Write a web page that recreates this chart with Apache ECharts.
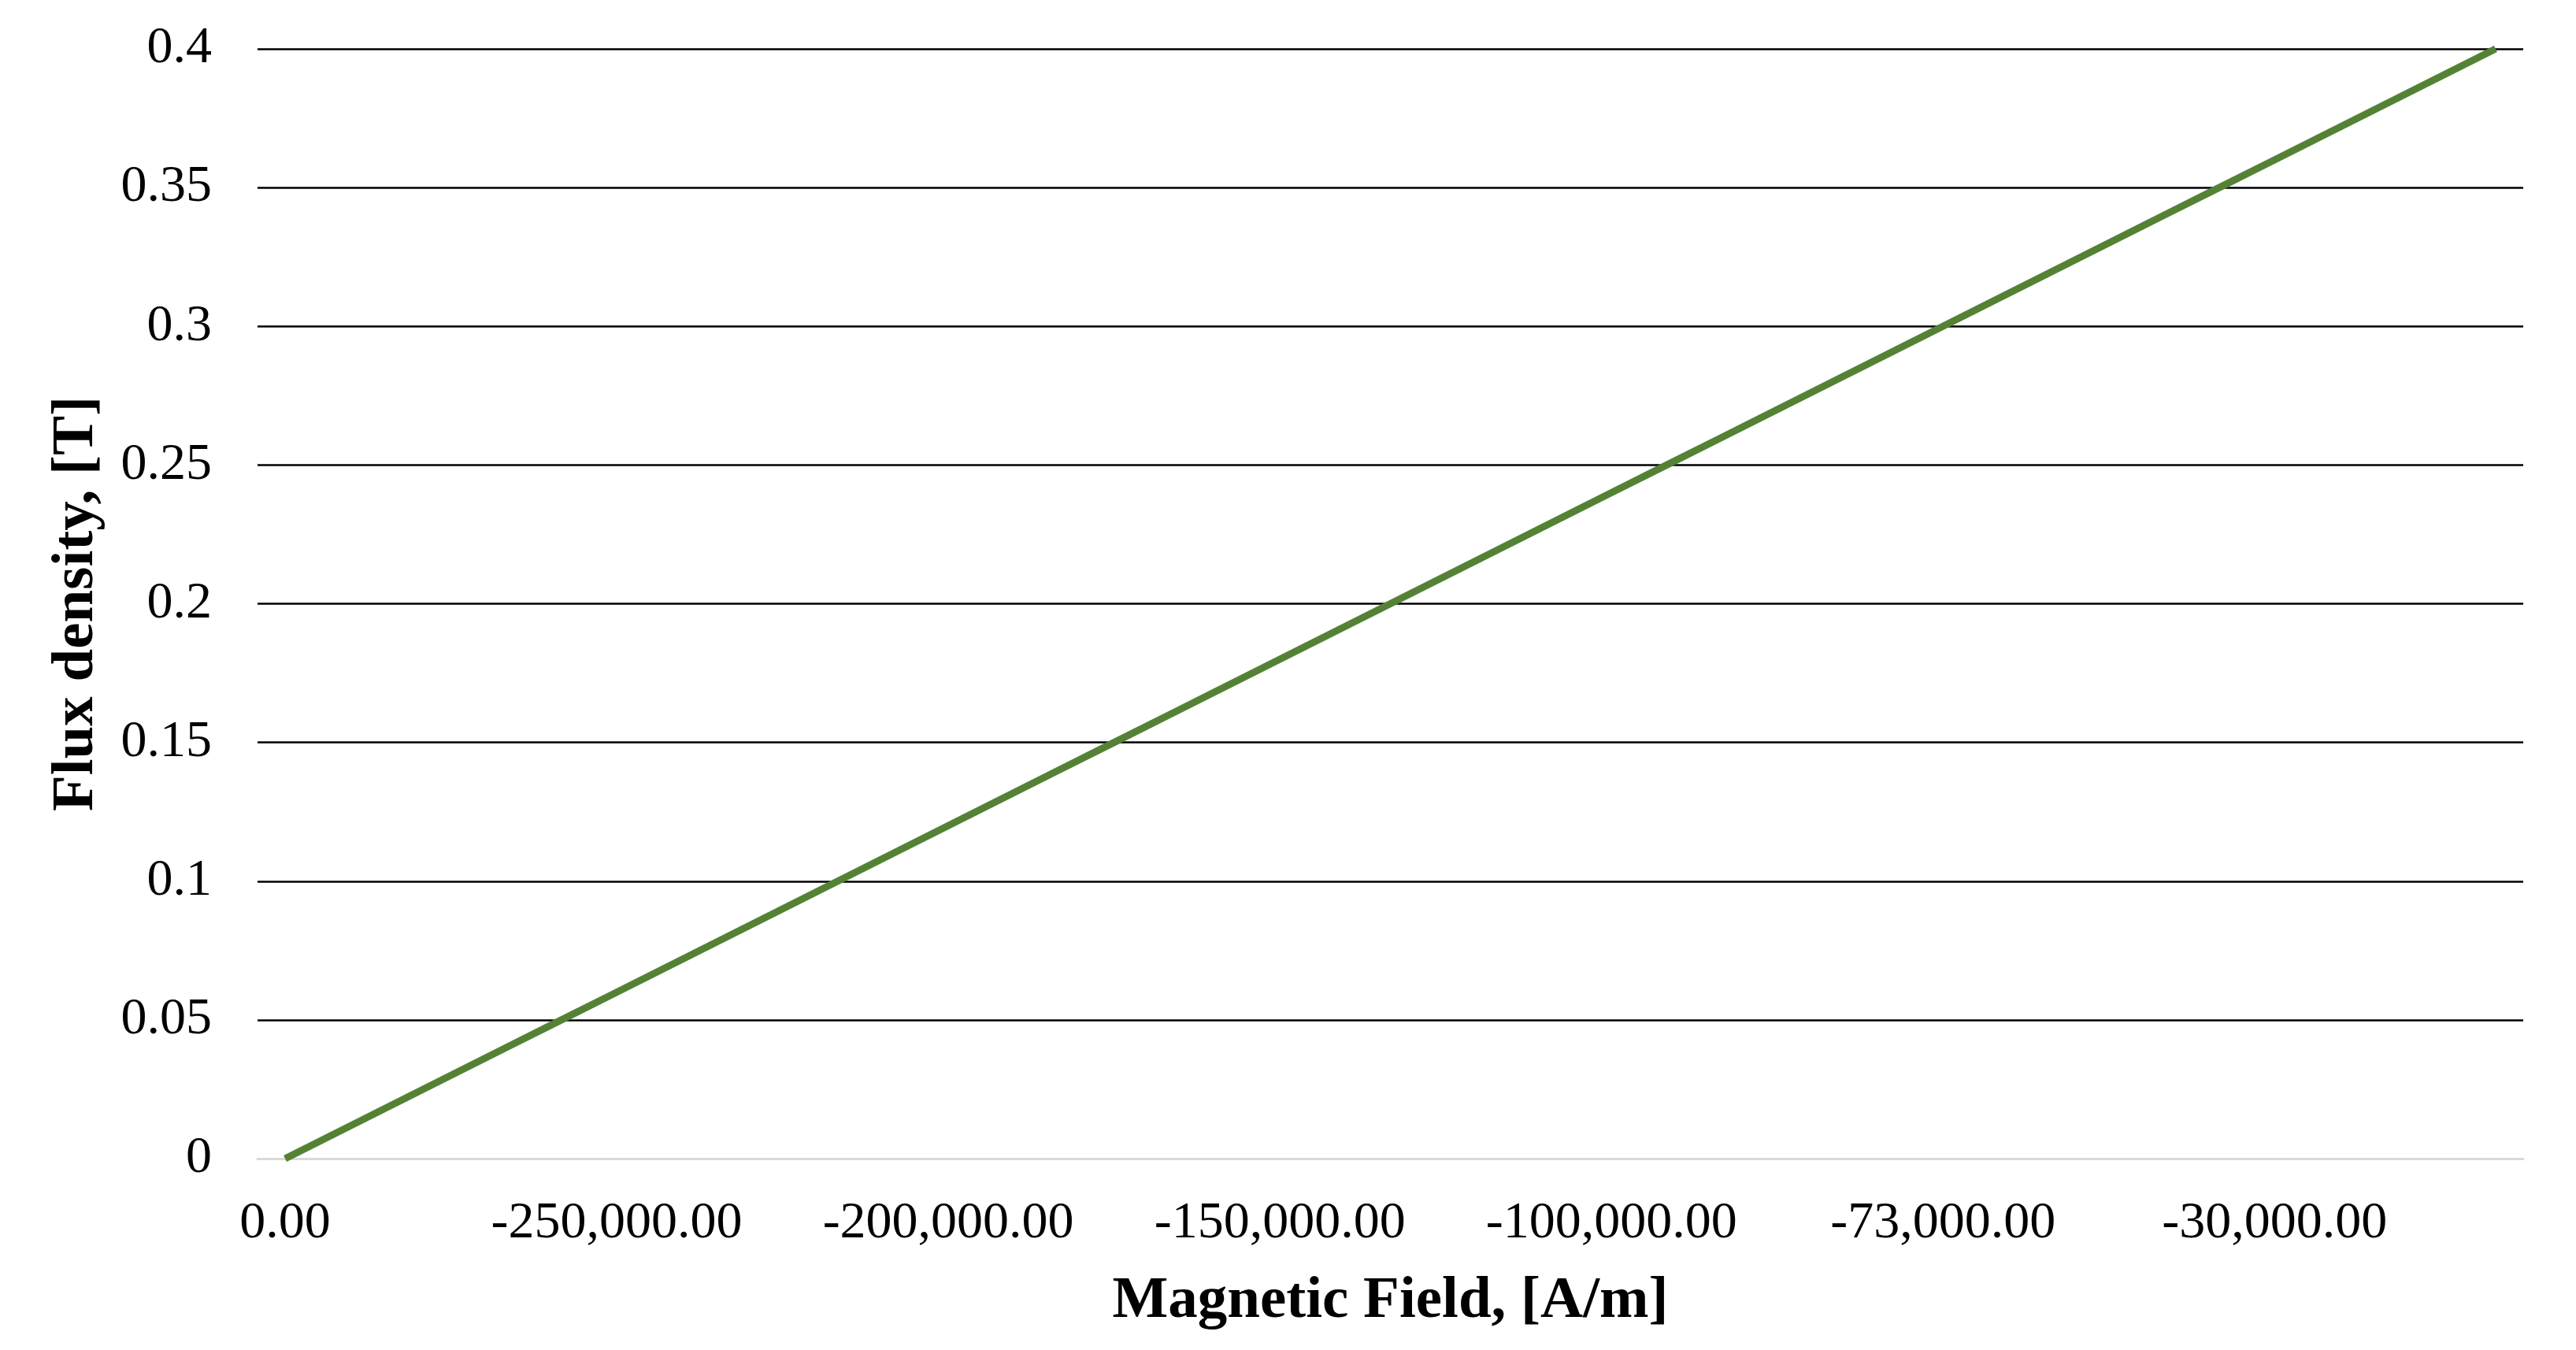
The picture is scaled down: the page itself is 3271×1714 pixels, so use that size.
<!DOCTYPE html>
<html>
<head>
<meta charset="utf-8">
<title>Flux density vs Magnetic Field</title>
<script src="https://cdn.jsdelivr.net/npm/echarts@6/dist/echarts.min.js"></script>
<style>
  html, body { margin: 0; padding: 0; background: #fff; }
  #chart { width: 3271px; height: 1714px; }
</style>
</head>
<body>
<div id="chart"></div>
<script>
// magnetic field H [A/m], one entry per point (only every 6th label is shown)
var fieldLabels = [
  "0.00", "-285,000.00", "-278,000.00", "-270,000.00", "-262,000.00", "-256,000.00",
  "-250,000.00", "-242,000.00", "-233,000.00", "-225,000.00", "-216,000.00", "-208,000.00",
  "-200,000.00", "-192,000.00", "-183,000.00", "-175,000.00", "-167,000.00", "-158,000.00",
  "-150,000.00", "-142,000.00", "-133,000.00", "-125,000.00", "-117,000.00", "-108,000.00",
  "-100,000.00", "-95,000.00", "-90,000.00", "-86,000.00", "-81,000.00", "-77,000.00",
  "-73,000.00", "-66,000.00", "-59,000.00", "-51,000.00", "-44,000.00", "-37,000.00",
  "-30,000.00", "-23,000.00", "-16,000.00", "-9,000.00", "-2,000.00"
];

// flux density B [T]
var fluxDensity = [
  0.00, 0.01, 0.02, 0.03, 0.04, 0.05, 0.06, 0.07, 0.08, 0.09,
  0.10, 0.11, 0.12, 0.13, 0.14, 0.15, 0.16, 0.17, 0.18, 0.19,
  0.20, 0.21, 0.22, 0.23, 0.24, 0.25, 0.26, 0.27, 0.28, 0.29,
  0.30, 0.31, 0.32, 0.33, 0.34, 0.35, 0.36, 0.37, 0.38, 0.39,
  0.40
];

var chart = echarts.init(document.getElementById("chart"));
var fontFamily = "'Liberation Serif', serif";

chart.setOption({
  animation: false,
  grid: {
    left: 327,
    right: 67,
    top: 62,
    bottom: 243,
    containLabel: false
  },
  xAxis: {
    type: "category",
    data: fieldLabels,
    boundaryGap: true,
    name: "Magnetic Field, [A/m]",
    nameLocation: "middle",
    nameGap: 144,
    nameTextStyle: {
      color: "#000",
      fontFamily: fontFamily,
      fontWeight: "bold",
      fontSize: 75
    },
    axisLine: {
      lineStyle: { color: "#d9d9d9", width: 3 }
    },
    axisTick: { show: false },
    axisLabel: {
      interval: 5,
      margin: 50,
      color: "#000",
      fontFamily: fontFamily,
      fontSize: 66
    },
    splitLine: { show: false }
  },
  yAxis: {
    type: "value",
    min: 0,
    max: 0.4,
    interval: 0.05,
    name: "Flux density, [T]",
    nameLocation: "middle",
    nameGap: 192,
    nameTextStyle: {
      color: "#000",
      fontFamily: fontFamily,
      fontWeight: "bold",
      fontSize: 75
    },
    axisLine: { show: false },
    axisTick: { show: false },
    axisLabel: {
      margin: 58,
      color: "#000",
      fontFamily: fontFamily,
      fontSize: 66
    },
    splitLine: {
      lineStyle: { color: "#000", width: 2.5 }
    }
  },
  series: [
    {
      name: "B-H",
      type: "line",
      data: fluxDensity,
      showSymbol: false,
      symbol: "none",
      lineStyle: { color: "#548235", width: 9 },
      itemStyle: { color: "#548235" }
    }
  ]
});
</script>
</body>
</html>
